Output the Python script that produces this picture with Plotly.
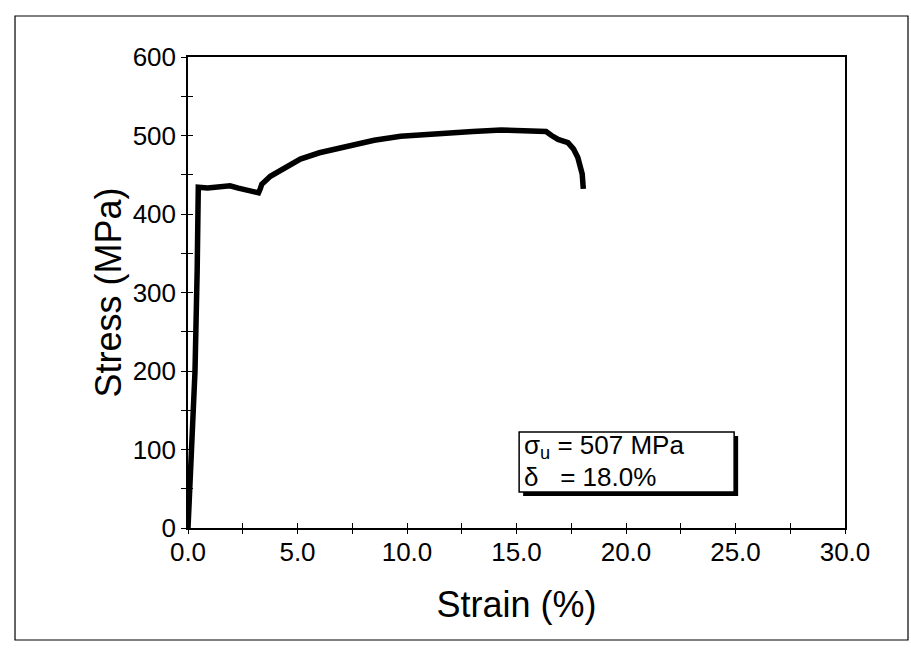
import plotly.graph_objects as go

# Engineering stress-strain curve of the tensile specimen
strain = [0, 0.16, 0.32, 0.42, 0.47, 0.9, 1.5, 1.92, 2.3, 2.69, 3.0, 3.22,
          3.3, 3.37, 3.76, 4.2, 5.13, 6.0, 7.42, 8.5, 9.71, 11.0, 12.0, 13.0,
          14.3, 15.5, 16.35, 16.6, 16.9, 17.35, 17.6, 17.8, 18.0, 18.05]
stress = [0, 103, 200, 330, 434, 433, 434, 436, 433, 430, 429, 427,
          432, 438, 448, 455, 470, 478, 488, 494, 499, 502, 504, 505,
          507, 506, 505, 500, 495, 491, 483, 472, 451, 432]

x_ticks = [0, 5, 10, 15, 20, 25, 30]
y_ticks = [0, 100, 200, 300, 400, 500, 600]

ultimate_strength = 507   # MPa
elongation = 18.0         # %

FONT = "Liberation Sans, Arial, Helvetica, sans-serif"

fig = go.Figure()
fig.add_trace(go.Scatter(x=strain, y=stress, mode="lines",
                         line=dict(color="black", width=5.5),
                         showlegend=False, hoverinfo="skip"))
# invisible copy that carries the other half of the crossing tick marks
fig.add_trace(go.Scatter(x=strain, y=stress, mode="lines", xaxis="x2", yaxis="y2",
                         line=dict(color="rgba(0,0,0,0)", width=0),
                         showlegend=False, hoverinfo="skip"))

tick_font = dict(family=FONT, size=26, color="black")
title_font = dict(family=FONT, size=36, color="black")

fig.update_layout(
    width=911, height=653,
    margin=dict(l=188, r=66, t=57, b=125),
    paper_bgcolor="white", plot_bgcolor="white",
    xaxis=dict(range=[0, 30], tickvals=x_ticks, tickformat=".1f",
               ticks="inside", ticklen=5, tickwidth=1, tickcolor="black",
               minor=dict(dtick=2.5, ticks="inside", ticklen=5, tickcolor="black"),
               showline=True, linecolor="black", linewidth=1.5, mirror=True,
               showgrid=False, zeroline=False, tickfont=tick_font,
               title=dict(text="Strain (%)", font=title_font, standoff=26)),
    yaxis=dict(range=[0, 600], tickvals=y_ticks,
               ticks="outside", ticklen=5, tickwidth=1, tickcolor="black",
               minor=dict(dtick=50, ticks="outside", ticklen=5, tickcolor="black"),
               showline=True, linecolor="black", linewidth=1.5, mirror=True,
               showgrid=False, zeroline=False, tickfont=tick_font,
               title=dict(text="Stress (MPa)", font=title_font, standoff=0)),
    xaxis2=dict(range=[0, 30], overlaying="x", anchor="y", side="bottom",
                tickvals=x_ticks, ticks="outside", ticklen=5, tickcolor="black",
                minor=dict(dtick=2.5, ticks="outside", ticklen=5, tickcolor="black"),
                showticklabels=False, showline=False, showgrid=False, zeroline=False),
    yaxis2=dict(range=[0, 600], overlaying="y", anchor="x", side="left",
                tickvals=y_ticks, ticks="inside", ticklen=5, tickcolor="black",
                minor=dict(dtick=50, ticks="inside", ticklen=5, tickcolor="black"),
                showticklabels=False, showline=False, showgrid=False, zeroline=False),
)

# outer frame around the whole chart
fig.add_shape(type="rect", xref="paper", yref="paper",
              x0=-0.2633, x1=1.0959, y0=-0.2378, y1=1.087,
              line=dict(color="black", width=1.2), fillcolor="rgba(0,0,0,0)",
              layer="below")

# result box: anchored at its top-left corner, sized in pixels
box_x, box_y = 15.12, 122.3
box_w, box_h = 215, 60
# drop shadow
fig.add_shape(type="rect", xref="x", yref="y", xsizemode="pixel", ysizemode="pixel",
              xanchor=box_x, yanchor=box_y, x0=4, x1=box_w + 4, y0=-4, y1=-box_h - 4,
              line=dict(width=0), fillcolor="black", layer="above")
fig.add_shape(type="rect", xref="x", yref="y", xsizemode="pixel", ysizemode="pixel",
              xanchor=box_x, yanchor=box_y, x0=0, x1=box_w, y0=0, y1=-box_h,
              line=dict(color="black", width=1.5), fillcolor="white", layer="above")

box_font = dict(family=FONT, size=26, color="black")
box_lines = [f"σ<sub>u</sub> = {ultimate_strength} MPa",
             f"δ&nbsp;&nbsp;&nbsp;= {elongation:.1f}%"]
for i, line in enumerate(box_lines):
    fig.add_annotation(x=box_x, y=box_y, xref="x", yref="y", xanchor="left",
                       yanchor="middle", text=line, showarrow=False, align="left",
                       font=box_font, xshift=3, yshift=-15 - 30 * i)

fig.write_html("out.html")
